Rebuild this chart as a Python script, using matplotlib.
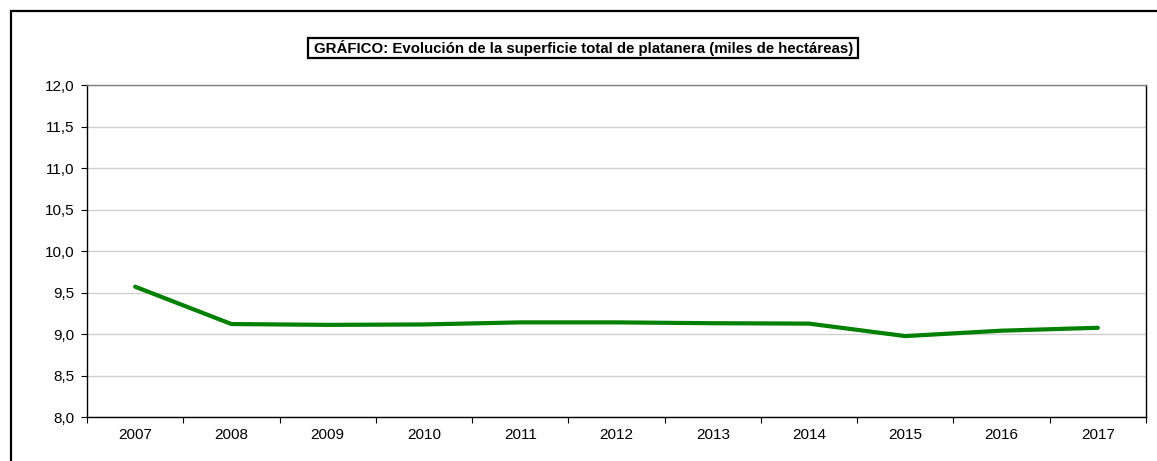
import matplotlib
matplotlib.use("Agg")
import matplotlib.pyplot as plt
from matplotlib.patches import Rectangle
import numpy as np

years = ["2007", "2008", "2009", "2010", "2011", "2012", "2013", "2014", "2015", "2016", "2017"]
superficie = [9.57, 9.12, 9.11, 9.115, 9.14, 9.14, 9.13, 9.125, 8.975, 9.04, 9.075]
yticks = [8.0, 8.5, 9.0, 9.5, 10.0, 10.5, 11.0, 11.5, 12.0]
title = "GRÁFICO: Evolución de la superficie total de platanera (miles de hectáreas)"

plt.rcParams['font.family'] = ['Liberation Sans', 'DejaVu Sans']

W, H = 1157, 461
fig = plt.figure(figsize=(W/100, H/100), dpi=100)

# outer frame (right/bottom edges cropped off)
fig.add_artist(Rectangle((11/W, -0.05), 1.2, 1 - 11/H + 0.05, transform=fig.transFigure,
                         fill=False, edgecolor='black', linewidth=1.6))

left, right, top, bottom = 87, 1146, 85, 417
ax = fig.add_axes([left/W, 1 - bottom/H, (right-left)/W, (bottom-top)/H])

x = np.arange(len(years))
ax.plot(x, superficie, color='#008000', linewidth=3.0, solid_capstyle='round', zorder=3)

ax.set_xlim(-0.5, len(years) - 0.5)
ax.set_ylim(8, 12)
ax.set_yticks(yticks)
ax.set_yticklabels([f"{v:.1f}".replace('.', ',') for v in yticks])
ax.grid(axis='y', color='#d0d0d0', linewidth=1.0)
ax.set_axisbelow(True)

ax.set_xticks(x)
ax.set_xticklabels(years)
ax.set_xticks(np.arange(-0.5, len(years)), minor=True)
ax.tick_params(axis='x', which='major', length=0, pad=8, labelsize=11)
ax.tick_params(axis='x', which='minor', length=4, width=0.8, direction='out')
ax.tick_params(axis='y', length=4, width=0.8, direction='out', labelsize=11, pad=5)

for s in ['left', 'bottom', 'right']:
    ax.spines[s].set_color('black')
    ax.spines[s].set_linewidth(1.0)
ax.spines['top'].set_color('#808080')
ax.spines['top'].set_linewidth(1.0)

# title box
bx0, bx1, by0, by1 = 308, 858, 38, 58
fig.add_artist(Rectangle((bx0/W, 1 - by1/H), (bx1-bx0)/W, (by1-by0)/H, transform=fig.transFigure,
                         facecolor='white', edgecolor='black', linewidth=1.6))
fig.text(584/W, 1 - 48/H, title, ha='center', va='center', fontsize=10.8, fontweight='bold')

fig.savefig("out.png", dpi=100)
